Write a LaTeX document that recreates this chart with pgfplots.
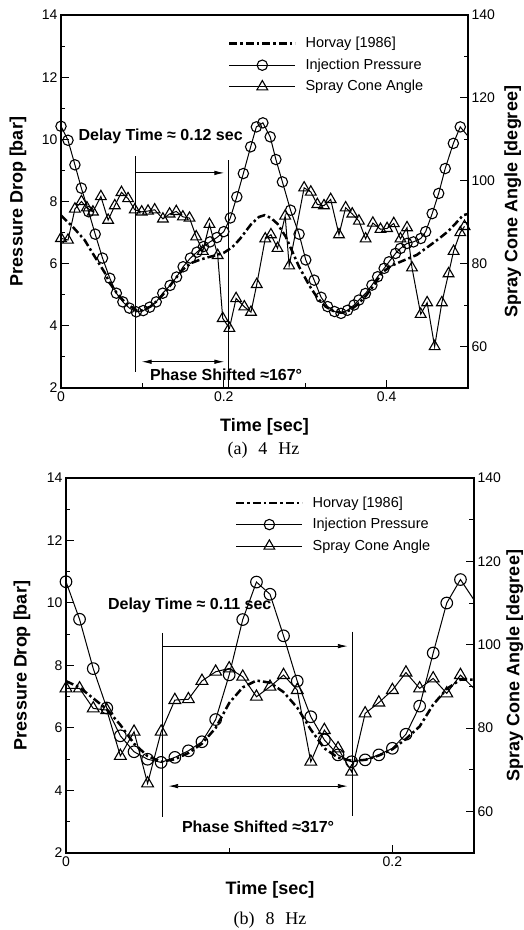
\documentclass[border=0pt]{standalone}
\usepackage{fontspec}
\setmainfont{Liberation Sans}
\newfontfamily\timesfont{Liberation Serif}
\usepackage{pgfplots}
\pgfplotsset{compat=1.18}
\usetikzlibrary{arrows.meta}

\tikzset{ann/.style={font=\bfseries\fontsize{16}{18}\selectfont}}
\pgfplotsset{
  common/.style={
    scale only axis, anchor=south west, xmin=0, clip=true,
    axis line style={line width=1.5pt},
    tick align=inside,
    major tick length=8pt, minor tick length=4.5pt,
    every tick/.style={black, line width=1pt},
    tick label style={font=\fontsize{14}{16}\selectfont},
    label style={font=\bfseries\fontsize{18}{20}\selectfont},
    /pgf/number format/assume math mode=true,
    /pgf/number format/fixed,
  },
  pres/.style={common, ymin=2, ymax=14, ytick={2,4,...,14}, minor ytick={3,5,...,13},
    ytick pos=left, xtick pos=left, xlabel={Time [sec]}, ylabel={Pressure Drop [bar]}},
  ang/.style={common, ymin=50, ymax=140, ytick={60,80,...,140}, minor ytick={70,90,110,130},
    ytick pos=right, yticklabel pos=right, xtick=\empty, ylabel={Spray Cone Angle [degree]},
    legend cell align=left,
    legend image code/.code={\draw[mark repeat=2,mark phase=2,##1] plot coordinates {(0pt,0pt) (33pt,0pt) (66pt,0pt)};},
    legend style={draw=none, fill=none, anchor=north west, inner sep=0pt,
      font=\fontsize{14.5}{16}\selectfont, row sep=5.5pt,
      nodes={inner sep=1pt, text height=11pt, text depth=3pt},
      /tikz/every odd column/.append style={column sep=8pt}}},
  horvay/.style={black, line width=2.5pt, dash pattern=on 8pt off 3pt on 2.5pt off 3pt, no markers},
  inj/.style={black, line width=1pt, mark=o, mark size=5.2pt, mark options={solid, line width=1.1pt}},
  spray/.style={black, line width=1pt, mark=triangle, mark size=6.2pt, mark options={solid, line width=1.1pt}},
}

\begin{document}
\begin{tikzpicture}
\useasboundingbox (0,0) rectangle (524pt,930pt);

% ---------------- panel (a) ----------------
\begin{axis}[pres, at={(61pt,542pt)}, width=407pt, height=373pt, xmax=0.5,
  xtick={0,0.2,0.4}, minor xtick={0.1,0.3},
  xlabel style={at={(axis description cs:0.5,-0.1046)}, anchor=center},
  ylabel style={at={(axis description cs:-0.1057,0.5)}, anchor=center}]
\addplot[horvay] coordinates {
(0,7.55) (0.0143,7.19) (0.029,6.76) (0.0416,6.22) (0.054,5.7) (0.06,5.37) (0.07,5.0)
(0.08,4.72) (0.093,4.5) (0.1,4.5) (0.11,4.62) (0.12,4.85) (0.13,5.15) (0.14,5.5)
(0.15,5.82) (0.16,6.02) (0.17,6.12) (0.18,6.2) (0.19,6.27) (0.2,6.35) (0.21,6.52)
(0.22,6.8) (0.233,7.25) (0.243,7.5) (0.25,7.56) (0.258,7.47) (0.266,7.28) (0.276,6.87)
(0.2925,5.9) (0.305,5.3) (0.315,4.9) (0.325,4.62) (0.335,4.47) (0.345,4.42) (0.355,4.5)
(0.365,4.7) (0.375,4.98) (0.385,5.33) (0.394,5.7) (0.405,5.92) (0.417,6.06) (0.427,6.17)
(0.437,6.28) (0.447,6.47) (0.458,6.68) (0.467,6.86) (0.476,7.05) (0.485,7.3) (0.494,7.56) (0.5,7.6)
};
\addplot[inj, mark indices={1,...,61}] coordinates {
(0,10.42) (0.0086,9.97) (0.0171,9.18) (0.025,8.43) (0.034,7.67) (0.042,6.95) (0.051,6.18)
(0.06,5.53) (0.068,5.05) (0.076,4.77) (0.084,4.57) (0.0925,4.45) (0.101,4.49) (0.109,4.6)
(0.117,4.77) (0.125,5.05) (0.134,5.3) (0.142,5.57) (0.15,5.9) (0.159,6.18) (0.167,6.37)
(0.175,6.55) (0.183,6.7) (0.1915,6.84) (0.2,7.03) (0.208,7.47) (0.216,8.15) (0.224,8.9)
(0.233,9.76) (0.24,10.4) (0.248,10.53) (0.257,10.08) (0.264,9.35) (0.272,8.63) (0.282,7.72)
(0.2925,6.95) (0.3007,6.12) (0.311,5.47) (0.3195,4.92) (0.3275,4.62) (0.336,4.46) (0.344,4.4)
(0.352,4.5) (0.36,4.67) (0.366,4.83) (0.374,5.04) (0.382,5.31) (0.389,5.58) (0.397,5.85)
(0.403,6.06) (0.411,6.33) (0.417,6.49) (0.425,6.65) (0.433,6.7) (0.442,6.81) (0.448,7.03)
(0.456,7.61) (0.464,8.26) (0.472,9.06) (0.482,9.87) (0.4905,10.4) (0.5,10.1)
};
\draw[line width=0.9pt] (axis cs:0.092,9.46) -- (axis cs:0.092,2.51);
\draw[line width=0.9pt] (axis cs:0.206,9.33) -- (axis cs:0.206,2);
\draw[line width=0.9pt, -{Latex[length=10pt,width=4.5pt]}] (axis cs:0.092,8.92) -- (axis cs:0.2007,8.92);
\draw[line width=0.9pt, {Latex[length=10pt,width=4.5pt]}-{Latex[length=10pt,width=4.5pt]}] (axis cs:0.099,2.845) -- (axis cs:0.2007,2.845);
\node[ann] at (axis cs:0.1224,10.1) {Delay Time ≈ 0.12 sec};
\node[ann] at (axis cs:0.2028,2.42) {Phase Shifted ≈167°};
\end{axis}

\begin{axis}[ang, at={(61pt,542pt)}, width=407pt, height=373pt, xmax=0.5,
  ylabel style={at={(axis description cs:1.11,0.5)}, anchor=center},
  legend style={at={(axis description cs:0.41,0.945)}}]
\addlegendimage{horvay}\addlegendentry{Horvay [1986]}
\addlegendimage{inj}\addlegendentry{Injection Pressure}
\addplot[spray] coordinates {
(0,86.1) (0.0086,85.7) (0.0171,93.2) (0.0251,95) (0.0318,93.5) (0.0392,92.5) (0.049,96.2)
(0.0579,90.5) (0.0661,94) (0.0743,97.2) (0.0824,95.7) (0.0906,93) (0.0991,92.5) (0.1069,92.7)
(0.1151,93) (0.1252,90.8) (0.1334,92) (0.1416,92.6) (0.1497,91.3) (0.1579,91) (0.1661,86.5)
(0.1742,83) (0.1824,89.5) (0.1925,82) (0.1987,66.8) (0.2069,64.4) (0.2151,71.6) (0.2252,69.6)
(0.2334,68.3) (0.2405,75) (0.2509,86) (0.2579,87) (0.266,83.7) (0.2754,91.5) (0.2803,79.5)
(0.2987,98.3) (0.3069,97.3) (0.3149,94.3) (0.3231,94) (0.3313,95.5) (0.3415,87) (0.3497,93.5)
(0.3578,92) (0.366,90.3) (0.3742,86) (0.3831,89.8) (0.3925,88.3) (0.4006,88.5) (0.4088,89.7)
(0.417,86) (0.4251,88.7) (0.4312,79) (0.4419,67.8) (0.4498,70.6) (0.459,60) (0.4679,70.6)
(0.4761,77.6) (0.4823,83) (0.4905,87.5) (0.4957,89)
};
\addlegendentry{Spray Cone Angle}
\end{axis}

\node[font=\timesfont\fontsize{18}{20}\selectfont] at (263.5pt,480pt) {(a)\hspace{0.6em}4\hspace{0.6em}Hz};

% ---------------- panel (b) ----------------
\begin{axis}[pres, at={(66pt,77pt)}, width=408pt, height=375pt, xmax=0.25,
  xtick={0,0.2}, minor xtick={0.1},
  xlabel style={at={(axis description cs:0.5,-0.0987)}, anchor=center},
  ylabel style={at={(axis description cs:-0.108,0.5)}, anchor=center}]
\addplot[horvay] coordinates {
(0,7.5) (0.0083,7.3) (0.0167,6.95) (0.025,6.6) (0.0333,6.1) (0.0417,5.5) (0.05,5.1)
(0.0583,4.92) (0.0667,5.0) (0.075,5.2) (0.0833,5.5) (0.0917,6.0) (0.1,6.8) (0.1083,7.3)
(0.1167,7.52) (0.125,7.45) (0.1333,7.15) (0.1417,6.65) (0.15,5.95) (0.1583,5.35) (0.1667,5.05)
(0.175,4.95) (0.1833,4.98) (0.1917,5.12) (0.2,5.32) (0.2083,5.65) (0.2167,6.05) (0.225,6.75)
(0.2333,7.25) (0.2417,7.55) (0.25,7.55)
};
\addplot[inj, mark size=5.8pt, mark indices={1,...,30}] coordinates {
(0,10.68) (0.0083,9.48) (0.0167,7.9) (0.025,6.64) (0.0333,5.75) (0.0417,5.24) (0.05,5.0)
(0.0583,4.9) (0.0667,5.06) (0.075,5.27) (0.0833,5.56) (0.0917,6.27) (0.1,7.7) (0.1083,9.47)
(0.1167,10.67) (0.125,10.28) (0.1333,8.95) (0.1417,7.5) (0.15,6.36) (0.1583,5.62) (0.1667,5.14)
(0.175,4.92) (0.1833,4.98) (0.1917,5.14) (0.2,5.35) (0.2083,5.8) (0.2167,6.7) (0.225,8.4)
(0.2333,10.0) (0.2417,10.75) (0.25,10.1)
};
\draw[line width=0.9pt] (axis cs:0.0592,9.04) -- (axis cs:0.0592,3.16);
\draw[line width=0.9pt] (axis cs:0.1757,9.08) -- (axis cs:0.1757,3.18);
\draw[line width=0.9pt, -{Latex[length=10pt,width=4.5pt]}] (axis cs:0.0592,8.62) -- (axis cs:0.1727,8.62);
\draw[line width=0.9pt, {Latex[length=10pt,width=4.5pt]}-{Latex[length=10pt,width=4.5pt]}] (axis cs:0.0626,4.14) -- (axis cs:0.1727,4.14);
\node[ann] at (axis cs:0.0758,9.94) {Delay Time ≈ 0.11 sec};
\node[ann] at (axis cs:0.1177,2.84) {Phase Shifted ≈317°};
\end{axis}

\begin{axis}[ang, at={(66pt,77pt)}, width=408pt, height=375pt, xmax=0.25,
  ylabel style={at={(axis description cs:1.10,0.5)}, anchor=center},
  legend style={at={(axis description cs:0.414,0.955)}}]
\addlegendimage{horvay}\addlegendentry{Horvay [1986]}
\addlegendimage{inj}\addlegendentry{Injection Pressure}
\addlegendimage{spray}\addlegendentry{Spray Cone Angle}
\addplot[spray, mark size=6.8pt, mark indices={1,...,30}, forget plot] coordinates {
(0,89.5) (0.0083,89.5) (0.0167,84.7) (0.025,84.3) (0.0333,73.3) (0.0417,79.1) (0.05,66.7)
(0.0583,79.1) (0.0667,86.7) (0.075,86.9) (0.0833,91.3) (0.0917,93.5) (0.1,94.3) (0.1083,92.3)
(0.1167,87.5) (0.125,89.9) (0.1333,92.7) (0.1417,89.1) (0.15,71.9) (0.1583,79.5) (0.1667,75.1)
(0.175,69.5) (0.1833,83.5) (0.1917,86.1) (0.2,89.1) (0.2083,93.3) (0.2167,89.5) (0.225,91.9)
(0.2333,88.3) (0.2417,92.7) (0.25,89.5)
};
\end{axis}

\node[font=\timesfont\fontsize{18}{20}\selectfont] at (270pt,10pt) {(b)\hspace{0.6em}8\hspace{0.6em}Hz};
\end{tikzpicture}
\end{document}
